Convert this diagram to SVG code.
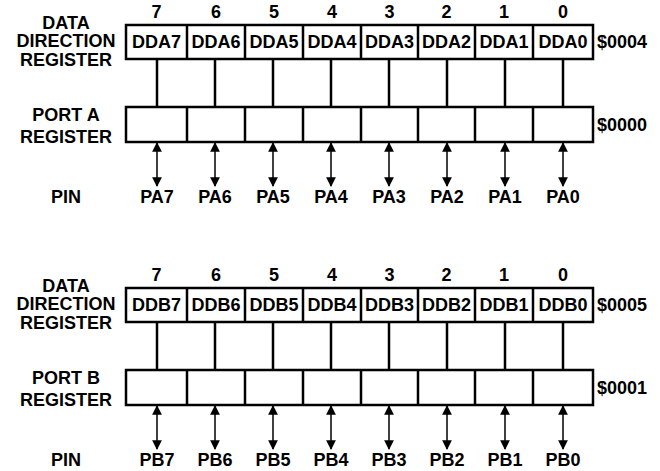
<svg xmlns="http://www.w3.org/2000/svg" width="660" height="471" viewBox="0 0 660 471">
<defs>
<style>
text{font-family:"Liberation Sans",Arial,Helvetica,sans-serif;font-weight:bold;font-size:18px;fill:#000}
.c{text-anchor:middle}
.box{fill:#fff;stroke:#000;stroke-width:2.5}
.div{stroke:#000;stroke-width:2.5}
.link{stroke:#000;stroke-width:2.5}
.pin{stroke:#000;stroke-width:1.5;marker-start:url(#ah);marker-end:url(#ah)}
</style>
<marker id="ah" viewBox="0 0 10 10" refX="9" refY="5" markerWidth="6.5" markerHeight="6.5" markerUnits="strokeWidth" orient="auto-start-reverse">
<path d="M0,0 L10,5 L0,10 Z" fill="#000"/>
</marker>
</defs>

<g id="portA">
<g id="ddrA-label">
<text class="c" x="66" y="28.5">DATA</text>
<text class="c" x="66" y="47">DIRECTION</text>
<text class="c" x="66" y="66">REGISTER</text>
</g>
<g id="bitnumsA">
<text class="c" x="156.5" y="18">7</text>
<text class="c" x="216" y="18">6</text>
<text class="c" x="274" y="18">5</text>
<text class="c" x="332" y="18">4</text>
<text class="c" x="389.5" y="18">3</text>
<text class="c" x="446.5" y="18">2</text>
<text class="c" x="504" y="18">1</text>
<text class="c" x="563" y="18">0</text>
</g>
<g id="ddrA">
<rect class="box" x="126" y="25" width="467" height="34"/>
<path class="div" d="M187,25V59M245,25V59M303,25V59M361,25V59M418,25V59M475,25V59M533,25V59"/>
<text class="c" x="156.5" y="48">DDA7</text>
<text class="c" x="216" y="48">DDA6</text>
<text class="c" x="274" y="48">DDA5</text>
<text class="c" x="332" y="48">DDA4</text>
<text class="c" x="389.5" y="48">DDA3</text>
<text class="c" x="446.5" y="48">DDA2</text>
<text class="c" x="504" y="48">DDA1</text>
<text class="c" x="563" y="48">DDA0</text>
<text x="597" y="48">$0004</text>
</g>
<g id="portA-label">
<text class="c" x="66" y="121">PORT A</text>
<text class="c" x="66" y="143">REGISTER</text>
</g>
<g id="portAreg">
<rect class="box" x="126" y="107" width="467" height="35"/>
<path class="div" d="M187,107V142M245,107V142M303,107V142M361,107V142M418,107V142M475,107V142M533,107V142"/>
<text x="597" y="131">$0000</text>
</g>
<g id="pinsA">
<text class="c" x="66" y="203">PIN</text>
<text class="c" x="157" y="203">PA7</text>
<text class="c" x="215" y="203">PA6</text>
<text class="c" x="273" y="203">PA5</text>
<text class="c" x="331" y="203">PA4</text>
<text class="c" x="389" y="203">PA3</text>
<text class="c" x="447" y="203">PA2</text>
<text class="c" x="505" y="203">PA1</text>
<text class="c" x="563" y="203">PA0</text>
</g>
</g>

<g id="portB" transform="translate(0,263)">
<g id="ddrB-label">
<text class="c" x="66" y="28.5">DATA</text>
<text class="c" x="66" y="47">DIRECTION</text>
<text class="c" x="66" y="66">REGISTER</text>
</g>
<g id="bitnumsB">
<text class="c" x="156.5" y="18">7</text>
<text class="c" x="216" y="18">6</text>
<text class="c" x="274" y="18">5</text>
<text class="c" x="332" y="18">4</text>
<text class="c" x="389.5" y="18">3</text>
<text class="c" x="446.5" y="18">2</text>
<text class="c" x="504" y="18">1</text>
<text class="c" x="563" y="18">0</text>
</g>
<g id="ddrB">
<rect class="box" x="126" y="25" width="467" height="34"/>
<path class="div" d="M187,25V59M245,25V59M303,25V59M361,25V59M418,25V59M475,25V59M533,25V59"/>
<text class="c" x="156.5" y="48">DDB7</text>
<text class="c" x="216" y="48">DDB6</text>
<text class="c" x="274" y="48">DDB5</text>
<text class="c" x="332" y="48">DDB4</text>
<text class="c" x="389.5" y="48">DDB3</text>
<text class="c" x="446.5" y="48">DDB2</text>
<text class="c" x="504" y="48">DDB1</text>
<text class="c" x="563" y="48">DDB0</text>
<text x="597" y="48">$0005</text>
</g>
<g id="portB-label">
<text class="c" x="66" y="121">PORT B</text>
<text class="c" x="66" y="143">REGISTER</text>
</g>
<g id="portBreg">
<rect class="box" x="126" y="107" width="467" height="35"/>
<path class="div" d="M187,107V142M245,107V142M303,107V142M361,107V142M418,107V142M475,107V142M533,107V142"/>
<text x="597" y="131">$0001</text>
</g>
<g id="pinsB">
<text class="c" x="66" y="203">PIN</text>
<text class="c" x="157" y="203">PB7</text>
<text class="c" x="215" y="203">PB6</text>
<text class="c" x="273" y="203">PB5</text>
<text class="c" x="331" y="203">PB4</text>
<text class="c" x="389" y="203">PB3</text>
<text class="c" x="447" y="203">PB2</text>
<text class="c" x="505" y="203">PB1</text>
<text class="c" x="563" y="203">PB0</text>
</g>
</g>

<g id="connectors">
<path class="link" d="M157,59V107M215,59V107M273,59V107M331,59V107M389,59V107M447,59V107M505,59V107M563,59V107"/>
<path class="link" d="M157,322V370M215,322V370M273,322V370M331,322V370M389,322V370M447,322V370M505,322V370M563,322V370"/>
<line class="pin" x1="157" y1="143" x2="157" y2="186"/>
<line class="pin" x1="215" y1="143" x2="215" y2="186"/>
<line class="pin" x1="273" y1="143" x2="273" y2="186"/>
<line class="pin" x1="331" y1="143" x2="331" y2="186"/>
<line class="pin" x1="389" y1="143" x2="389" y2="186"/>
<line class="pin" x1="447" y1="143" x2="447" y2="186"/>
<line class="pin" x1="505" y1="143" x2="505" y2="186"/>
<line class="pin" x1="563" y1="143" x2="563" y2="186"/>
<line class="pin" x1="157" y1="406" x2="157" y2="449"/>
<line class="pin" x1="215" y1="406" x2="215" y2="449"/>
<line class="pin" x1="273" y1="406" x2="273" y2="449"/>
<line class="pin" x1="331" y1="406" x2="331" y2="449"/>
<line class="pin" x1="389" y1="406" x2="389" y2="449"/>
<line class="pin" x1="447" y1="406" x2="447" y2="449"/>
<line class="pin" x1="505" y1="406" x2="505" y2="449"/>
<line class="pin" x1="563" y1="406" x2="563" y2="449"/>
</g>
</svg>
